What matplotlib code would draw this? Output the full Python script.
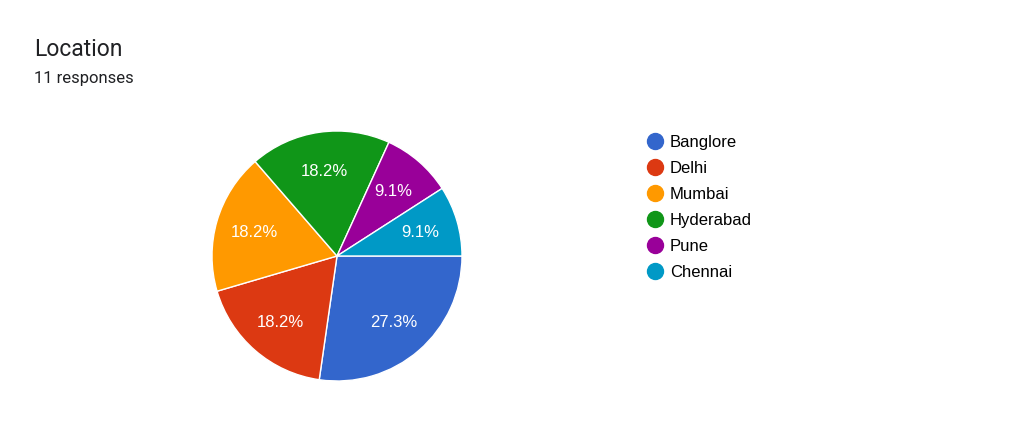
import matplotlib.pyplot as plt
from matplotlib.lines import Line2D

cities = ['Banglore', 'Delhi', 'Mumbai', 'Hyderabad', 'Pune', 'Chennai']
counts = [3, 2, 2, 2, 1, 1]
colors = ['#3366cc', '#dc3912', '#ff9900', '#109618', '#990099', '#0099c6']

W, H = 1024, 431
fig = plt.figure(figsize=(W / 100, H / 100), dpi=100)

# pie centred at (337, 257) px, radius 125 px
cx, cy, r = 337, 257, 125
ax = fig.add_axes([(cx - r) / W, (H - cy - r) / H, 2 * r / W, 2 * r / H])
wedges, texts, autotexts = ax.pie(
    counts, colors=colors, startangle=0, counterclock=False,
    autopct='%1.1f%%', pctdistance=0.69,
    wedgeprops=dict(edgecolor='white', linewidth=1),
    textprops=dict(color='white', fontsize=12, family='Liberation Sans'))
ax.set_xlim(-1, 1)
ax.set_ylim(-1, 1)
ax.set_aspect('equal')

fig.text(34 / W, 1 - 49 / H, 'Location', fontsize=16.5, family='Roboto',
         va='center', ha='left', color='#202124')
fig.text(34 / W, 1 - 78 / H, '11 responses', fontsize=12, family='Roboto',
         va='center', ha='left', color='#202124')

handles = [Line2D([], [], marker='o', linestyle='', markersize=11.5,
                  markerfacecolor=c, markeredgecolor=c) for c in colors]
fig.legend(handles, cities, loc='upper left',
           bbox_to_anchor=(634 / W, 1 - 127 / H), frameon=False,
           prop=dict(family='Liberation Sans', size=12),
           handletextpad=0.15, labelspacing=0.66, borderpad=0,
           handlelength=1.5)

fig.savefig('out.png', dpi=100)
